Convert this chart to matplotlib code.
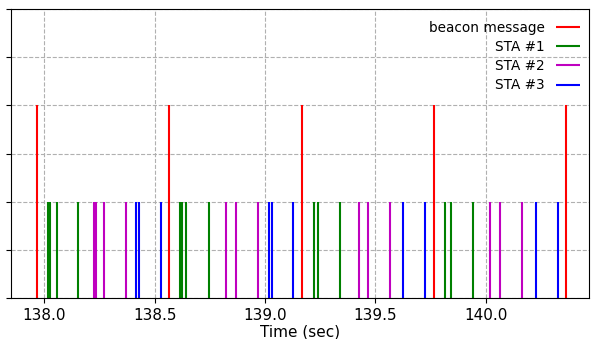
import numpy as np
import matplotlib
matplotlib.use('Agg')
import matplotlib.pyplot as plt

# event times (sec)
beacon = [137.966, 138.566, 139.166, 139.765, 140.365]
sta1 = [138.016, 138.026, 138.058, 138.151, 138.615, 138.624, 138.642, 138.745,
        139.223, 139.241, 139.341, 139.816, 139.841, 139.940]
sta2 = [138.227, 138.236, 138.269, 138.369, 138.824, 138.868, 138.969,
        139.424, 139.467, 139.567, 140.020, 140.065, 140.165]
sta3 = [138.415, 138.430, 138.527, 139.016, 139.030, 139.125, 139.623,
        139.724, 140.226, 140.325]

labels = ['beacon message', 'STA #1', 'STA #2', 'STA #3']
heights = [4, 2, 2, 2]
colors = ['r', 'g', 'm', 'b']

fig = plt.figure(figsize=(5.91, 3.39), dpi=100)
ax = fig.add_axes([0.0186, 0.121, 0.978, 0.852])

for t, h, c, lab in zip([beacon, sta1, sta2, sta3], heights, colors, labels):
    ax.vlines(t, 0, h, colors=c, linewidth=1.5, label=lab)

ax.set_xlim(137.849, 140.467)
ax.set_ylim(0, 6)
ax.set_yticks(np.arange(0, 7, 1))
ax.set_yticklabels([])
ax.set_xticks([138.0, 138.5, 139.0, 139.5, 140.0])
ax.tick_params(axis='x', labelsize=11)
ax.grid(True, linestyle='--', color='#b0b0b0', linewidth=0.8)
ax.set_axisbelow(True)
ax.set_xlabel('Time (sec)', fontsize=11, labelpad=1)
ax.legend(loc='upper right', bbox_to_anchor=(1.0, 0.99), frameon=False,
          markerfirst=False, fontsize=9.8, handlelength=1.8,
          labelspacing=0.38, borderaxespad=0.25)

fig.savefig('out.png', dpi=100)
